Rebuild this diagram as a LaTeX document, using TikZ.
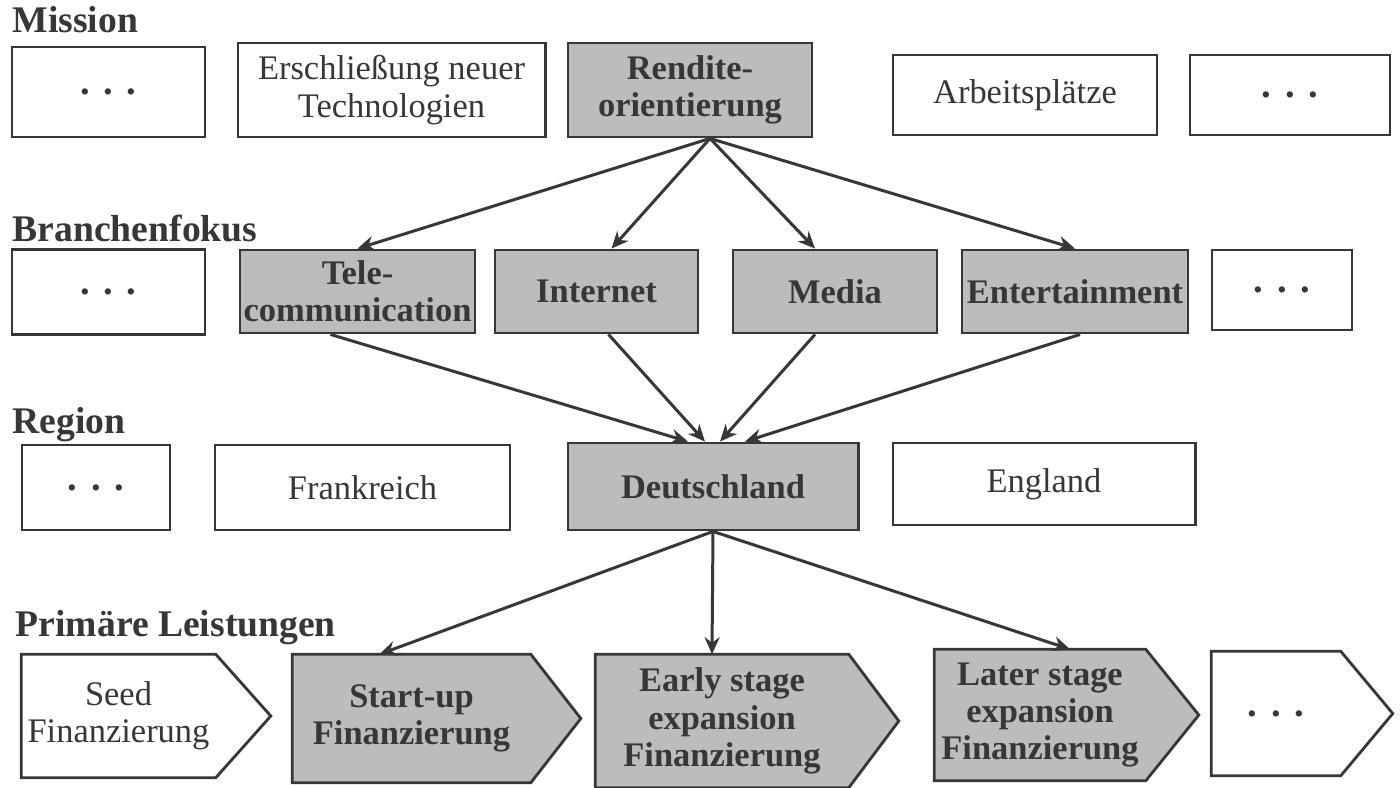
\documentclass[tikz,border=0pt]{standalone}
\usepackage{fontspec}
\setmainfont{Liberation Serif}
\usetikzlibrary{arrows.meta,backgrounds}
\definecolor{ink}{RGB}{55,55,55}
\definecolor{shade}{RGB}{188,188,188}
\newcommand{\mydots}{{\bfseries\fontsize{11}{12}\selectfont .\hspace{0.35em}.\hspace{0.35em}.}}
\begin{document}
\begin{tikzpicture}[x=0.01cm,y=-0.01cm,
  box/.style={draw=ink, line width=0.8pt, fill=white, inner sep=0pt, align=center,
    font=\fontsize{9.8}{10.6}\selectfont, text=ink},
  hbox/.style={box, fill=shade, font=\fontsize{9.8}{10.6}\selectfont\bfseries},
  lvl/.style={anchor=west, inner sep=0pt, font=\fontsize{10.7}{12}\selectfont\bfseries, text=ink},
  ptext/.style={inner sep=0pt, align=center, text=ink, font=\fontsize{9.8}{10.6}\selectfont},
  pbold/.style={ptext, font=\fontsize{9.8}{10.6}\selectfont\bfseries},
  pent/.style={draw=ink, line width=0.8pt, line join=miter},
  conn/.style={draw=ink, line width=0.85pt, -{Stealth[length=0.17cm,width=0.15cm]}},
]
\begin{pgfonlayer}{background}
  \fill[white] (0,0) rectangle (1400,787);
\end{pgfonlayer}
\useasboundingbox (0,0) rectangle (1400,787);

% level labels
\node[lvl] (lm) at (12,20) {Mission};
\node[lvl] (lb) at (12,228) {Branchenfokus};
\node[lvl] (lr) at (12,425) {Region};
\node[lvl] (lp) at (15,628) {Primäre Leistungen};

% Mission row
\node[box, minimum width=1.93cm, minimum height=0.90cm] (a1) at (108.5,92) {\mydots};
\node[box, minimum width=3.07cm, minimum height=0.94cm] (a2) at (391.5,90) {Erschließung neuer\\Technologien};
\node[hbox, minimum width=2.44cm, minimum height=0.94cm] (a3) at (690,90) {Rendite-\\orientierung};
\node[box, minimum width=2.64cm, minimum height=0.80cm] (a4) at (1025,95) {Arbeitsplätze};
\node[box, minimum width=2.00cm, minimum height=0.80cm] (a5) at (1290,95) {\mydots};

% Branchenfokus row
\node[box, minimum width=1.93cm, minimum height=0.85cm] (b1) at (108.5,292) {\mydots};
\node[hbox, minimum width=2.35cm, minimum height=0.83cm] (b2) at (357.5,291.5) {Tele-\\communication};
\node[hbox, minimum width=2.03cm, minimum height=0.83cm] (b3) at (596.5,291.5) {Internet};
\node[hbox, minimum width=2.04cm, minimum height=0.83cm] (b4) at (835,291.5) {Media};
\node[hbox, minimum width=2.26cm, minimum height=0.83cm] (b5) at (1075,291.5) {Entertainment};
\node[box, minimum width=1.40cm, minimum height=0.80cm] (b6) at (1282,290) {\mydots};

% Region row
\node[box, minimum width=1.48cm, minimum height=0.85cm] (c1) at (96,487.5) {\mydots};
\node[box, minimum width=2.95cm, minimum height=0.85cm] (c2) at (362.5,487.5) {Frankreich};
\node[hbox, minimum width=2.90cm, minimum height=0.87cm] (c3) at (713,486.5) {Deutschland};
\node[box, minimum width=3.02cm, minimum height=0.82cm] (c4) at (1044,484) {England};

% Primaere Leistungen row (text nodes = pentagon bodies)
\node[ptext, minimum width=1.93cm, minimum height=1.22cm] (d1) at (118.5,716) {Seed\\Finanzierung};
\node[pbold, minimum width=2.37cm, minimum height=1.27cm] (d2) at (411.5,718.5) {Start-up\\Finanzierung};
\node[pbold, minimum width=2.52cm, minimum height=1.32cm] (d3) at (722,721) {Early stage\\expansion\\Finanzierung};
\node[pbold, minimum width=2.10cm, minimum height=1.30cm] (d4) at (1040,715) {Later stage\\expansion\\Finanzierung};
\node[ptext, minimum width=1.28cm, minimum height=1.23cm] (d5) at (1276,713.5) {\mydots};

\begin{pgfonlayer}{background}
  \path[pent, fill=white] (d1.north west) -- (d1.north east) -- ([xshift=0.55cm]d1.east) -- (d1.south east) -- (d1.south west) -- cycle;
  \path[pent, fill=shade] (d2.north west) -- (d2.north east) -- ([xshift=0.50cm]d2.east) -- (d2.south east) -- (d2.south west) -- cycle;
  \path[pent, fill=shade] (d3.north west) -- (d3.north east) -- ([xshift=0.50cm]d3.east) -- (d3.south east) -- (d3.south west) -- cycle;
  \path[pent, fill=shade] (d4.north west) -- (d4.north east) -- ([xshift=0.53cm]d4.east) -- (d4.south east) -- (d4.south west) -- cycle;
  \path[pent, fill=white] (d5.north west) -- (d5.north east) -- ([xshift=0.52cm]d5.east) -- (d5.south east) -- (d5.south west) -- cycle;
\end{pgfonlayer}

% connectors Mission -> Branchenfokus
\draw[conn] ([xshift=0.2cm]a3.south) -- (b2.north);
\draw[conn] ([xshift=0.2cm]a3.south) -- ([xshift=0.15cm]b3.north);
\draw[conn] ([xshift=0.2cm]a3.south) -- ([xshift=-0.2cm]b4.north);
\draw[conn] ([xshift=0.2cm]a3.south) -- (b5.north);

% Branchenfokus -> Region
\draw[conn] ([xshift=-0.27cm]b2.south) -- ([xshift=-0.25cm]c3.north);
\draw[conn] ([xshift=0.12cm]b3.south) -- ([xshift=-0.08cm]c3.north);
\draw[conn] ([xshift=-0.2cm]b4.south) -- ([xshift=0.07cm]c3.north);
\draw[conn] ([xshift=0.05cm]b5.south) -- ([xshift=0.32cm]c3.north);

% Region -> Primaere Leistungen
\draw[conn] (c3.south) -- ([xshift=-0.32cm]d2.north);
\draw[conn] (c3.south) -- ([xshift=-0.1cm]d3.north);
\draw[conn] (c3.south) -- ([xshift=0.3cm]d4.north);
\end{tikzpicture}
\end{document}
